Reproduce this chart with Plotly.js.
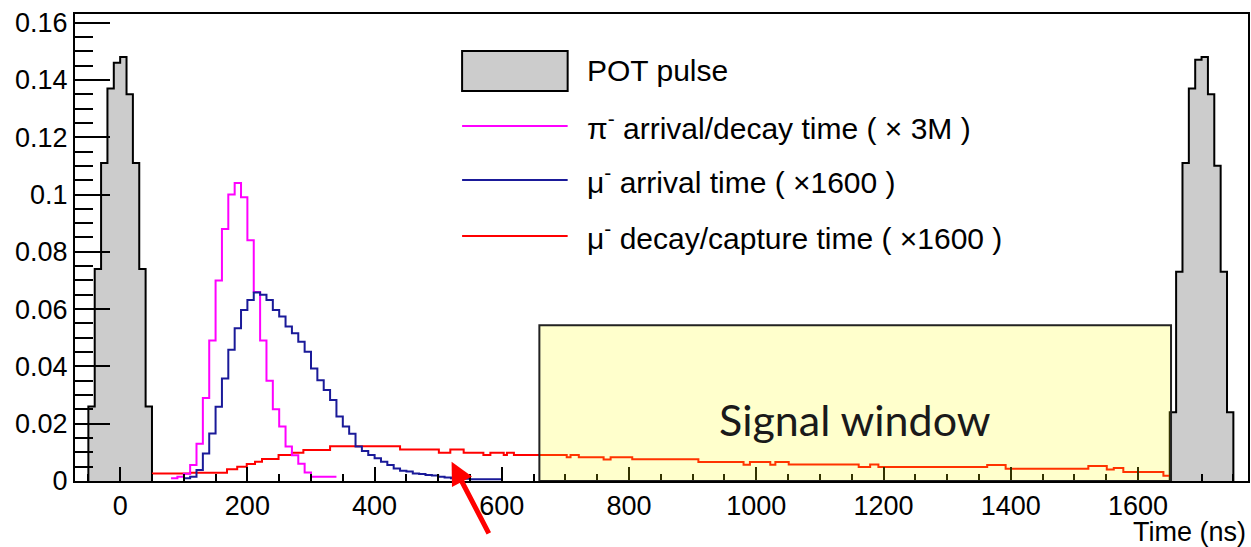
<!DOCTYPE html>
<html><head><meta charset="utf-8">
<script src="https://cdn.plot.ly/plotly-3.0.1.min.js"></script>
<style>html,body{margin:0;padding:0;background:#fff}#chart{width:1251px;height:547px}</style>
</head><body><div id="chart"></div>
<script>
// ---- data (ns, normalized counts) ----
const binWidth = 10;
const potPulse1Start = -50;
const potPulse1 = [0.026,0.074,0.111,0.137,0.146,0.148,0.135,0.111,0.074,0.026];
const potPulse2Start = 1650;
const potPulse2 = [0.024,0.073,0.111,0.137,0.147,0.148,0.135,0.110,0.073,0.024];

const pionStart = 80;
const pionValues = [0.001,0.0015,0.0025,0.0056,0.013,0.029,0.049,0.070,0.088,0.100,
                    0.104,0.099,0.084,0.066,0.049,0.035,0.025,0.019,0.012,0.009,
                    0.006,0.003,0.0015,0.0015,0.0015,0.0015];

const muArrivalStart = 100;
const muArrivalValues = [0.001,0.0015,0.0038,0.0096,0.0166,0.0259,0.0358,0.0458,0.0533,0.0597,
                         0.0632,0.0658,0.0650,0.0632,0.0597,0.0574,0.0539,0.0516,0.0486,0.0451,
                         0.0393,0.0352,0.0318,0.0283,0.0225,0.0190,0.0165,0.0120,0.0105,0.0091,
                         0.0079,0.0067,0.0056,0.0044,0.0036,0.0033,0.0026,0.0024,0.0021,0.0019,
                         0.0015,0.0012,0.0010,0.0010,0.0008,0.0006,0.0006,0.0006,0.0006,0.0006];

const muDecayEdges = [50,110,168,184,199,212,223,249,270,288,330,440,501,519,540,571,582,603,608,619,
                      702,708,721,760,771,805,909,980,990,1022,1030,1051,1161,1179,1192,1363,1392,1522,
                      1551,1562,1577,1640,1652];
const muDecayValues = [0.0026,0.0029,0.0041,0.0050,0.0059,0.0067,0.0077,0.0091,0.0099,0.0108,
                       0.0121,0.0110,0.0099,0.0110,0.0099,0.0091,0.0099,0.0091,0.0099,0.0091,
                       0.0083,0.0091,0.0083,0.0075,0.0083,0.0076,0.0066,0.0057,0.0066,0.0057,
                       0.0066,0.0058,0.0049,0.0058,0.0049,0.0056,0.0043,0.0052,0.0040,0.0045,
                       0.0031,0.0018];

const signalWindow = [659, 1652];
const signalWindowTop = 0.0544;
const arrowTip = [521, 0.0067];

const legendLabels = ['POT pulse',
  'π<sup>-</sup> arrival/decay time ( × 3M )',
  'μ<sup>-</sup> arrival time ( ×1600 )',
  'μ<sup>-</sup> decay/capture time ( ×1600 )'];

// ---- helpers ----
function uniformEdges(start, n){ const e=[]; for(let i=0;i<=n;i++) e.push(start+i*binWidth); return e; }
function stepXY(edges, vals, closed){
  const x=[], y=[];
  if(closed){ x.push(edges[0]); y.push(0); }
  for(let i=0;i<vals.length;i++){ x.push(edges[i]); y.push(vals[i]); }
  x.push(edges[vals.length]); y.push(vals[vals.length-1]);
  if(closed){ x.push(edges[vals.length]); y.push(0); }
  return {x, y};
}

const FONT = 'Liberation Sans, Arial, Helvetica, sans-serif';
const cPion = '#ff00ff', cMuA = '#1a1a99', cMuD = '#ff0000', cPot = '#cccccc';

const p1 = stepXY(uniformEdges(potPulse1Start, potPulse1.length), potPulse1, true);
const p2 = stepXY(uniformEdges(potPulse2Start, potPulse2.length), potPulse2, true);
const pi = stepXY(uniformEdges(pionStart, pionValues.length), pionValues, false);
const ma = stepXY(uniformEdges(muArrivalStart, muArrivalValues.length), muArrivalValues, false);
const md = stepXY(muDecayEdges, muDecayValues, false);

const traces = [
  {x:p1.x, y:p1.y, mode:'lines', line:{shape:'hv', color:'#000', width:2}, fill:'tozeroy', fillcolor:cPot, hoverinfo:'skip'},
  {x:p2.x, y:p2.y, mode:'lines', line:{shape:'hv', color:'#000', width:2}, fill:'tozeroy', fillcolor:cPot, hoverinfo:'skip'},
  {x:md.x, y:md.y, mode:'lines', line:{shape:'hv', color:cMuD, width:2}},
  {x:pi.x, y:pi.y, mode:'lines', line:{shape:'hv', color:cPion, width:2}},
  {x:ma.x, y:ma.y, mode:'lines', line:{shape:'hv', color:cMuA, width:2}}
];

// legend geometry (paper coords)
const lgX0 = 0.330, lgX1 = 0.420, lgTextX = 0.435;
const lgRows = [0.878, 0.760, 0.6445, 0.5246];
const lgColors = [null, cPion, cMuA, cMuD];

const shapes = [
  {type:'rect', xref:'x', yref:'y', x0:signalWindow[0], x1:signalWindow[1], y0:0, y1:signalWindowTop,
   fillcolor:'rgba(255,255,0,0.2)', line:{color:'#222', width:2}, layer:'above'},
  {type:'rect', xref:'paper', yref:'paper', x0:lgX0, x1:lgX1, y0:lgRows[0]-0.043, y1:lgRows[0]+0.043,
   fillcolor:cPot, line:{color:'#000', width:2}}
];
for(let i=1;i<4;i++){
  shapes.push({type:'line', xref:'paper', yref:'paper', x0:lgX0, x1:lgX1, y0:lgRows[i], y1:lgRows[i],
               line:{color:lgColors[i], width:2}});
}

const annotations = [];
for(let i=0;i<4;i++){
  annotations.push({xref:'paper', yref:'paper', x:lgTextX, y:lgRows[i], xanchor:'left', yanchor:'middle',
    text:legendLabels[i], showarrow:false, font:{family:FONT, size:30, color:'#000'}});
}
annotations.push({xref:'x', yref:'y', x:(signalWindow[0]+signalWindow[1])/2, y:0.0213,
  text:'Signal window', showarrow:false, font:{family:'Lato, Open Sans, sans-serif', size:43, color:'#1a1a1a'}});
annotations.push({xref:'paper', yref:'paper', x:1, y:-0.109, xanchor:'right', yanchor:'middle',
  text:'Time (ns)', showarrow:false, font:{family:FONT, size:27, color:'#000'}});
annotations.push({xref:'x', yref:'y', x:arrowTip[0], y:arrowTip[1], ax:38, ay:73, text:'',
  showarrow:true, arrowcolor:'#ff0000', arrowwidth:5, arrowhead:2, arrowsize:0.9});

const layout = {
  width:1251, height:547,
  margin:{l:75, r:3, t:14, b:66},
  paper_bgcolor:'#fff', plot_bgcolor:'#fff',
  showlegend:false,
  font:{family:FONT, color:'#000'},
  xaxis:{range:[-71,1773], tick0:0, dtick:200, ticks:'inside', ticklen:14, tickwidth:2, tickcolor:'#000',
    showline:true, linecolor:'#000', linewidth:2, mirror:true, showgrid:false, zeroline:false,
    tickfont:{family:FONT, size:27, color:'#000'},
    minor:{dtick:50, ticks:'inside', ticklen:7, tickwidth:2, tickcolor:'#000', showgrid:false}},
  yaxis:{range:[0,0.163], tick0:0, dtick:0.02, ticks:'inside', ticklen:35, tickwidth:2, tickcolor:'#000',
    showline:true, linecolor:'#000', linewidth:2, mirror:true, showgrid:false, zeroline:false,
    tickfont:{family:FONT, size:27, color:'#000'},
    minor:{dtick:0.005, ticks:'inside', ticklen:18, tickwidth:2, tickcolor:'#000', showgrid:false}},
  shapes, annotations
};

Plotly.newPlot('chart', traces, layout, {displayModeBar:false, staticPlot:true});
</script></body></html>
